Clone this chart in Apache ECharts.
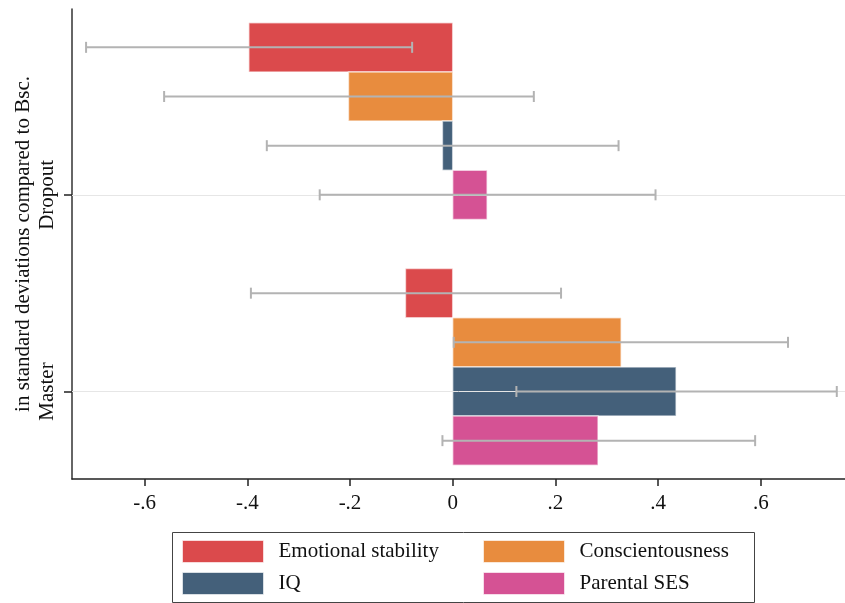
<!DOCTYPE html>
<html>
<head>
<meta charset="utf-8">
<script src="https://cdn.jsdelivr.net/npm/echarts@6/dist/echarts.min.js"></script>
<style>
  html, body { margin: 0; padding: 0; background: #fff; }
  #chart { width: 845px; height: 603px; }
</style>
</head>
<body>
<div id="chart"></div>
<script>
// Groups compared against Bsc. graduates
const groups = ['Dropout', 'Master'];
const seriesNames = ['Emotional stability', 'Conscientousness', 'IQ', 'Parental SES'];

// Point estimates (standard deviations), one value per group: [Dropout, Master]
const emotionalStability = [-0.397, -0.092];
const conscientousness   = [-0.203, 0.328];
const iq                 = [-0.020, 0.435];
const parentalSES        = [0.067, 0.283];

// Confidence intervals [low, high], per group: [Dropout, Master]
const emotionalStabilityCI = [[-0.714, -0.079], [-0.393, 0.211]];
const conscientousnessCI   = [[-0.562, 0.158], [0.002, 0.653]];
const iqCI                 = [[-0.362, 0.323], [0.124, 0.748]];
const parentalSESCI        = [[-0.259, 0.395], [-0.020, 0.589]];

// x-axis tick labels
const xTicks = [-0.6, -0.4, -0.2, 0, 0.2, 0.4, 0.6];
const xTickLabels = ['-.6', '-.4', '-.2', '0', '.2', '.4', '.6'];

const colors = ['#db4a4c', '#e88c3e', '#44607a', '#d55294'];
const estimates = [emotionalStability, conscientousness, iq, parentalSES];
const intervals = [emotionalStabilityCI, conscientousnessCI, iqCI, parentalSESCI];

// Layout: each group occupies four rows, with one empty row between groups.
const rowsPerGroup = 5;
const groupLabelRows = [3, 7];
const FONT = '"Liberation Serif", "DejaVu Serif", serif';
const FS = 21;

function rowOf(g, s) { return g * rowsPerGroup + s; }

function barSeries(s) {
  return {
    name: seriesNames[s],
    type: 'custom',
    z: 3,
    itemStyle: { color: colors[s] },
    encode: { x: 0, y: 1 },
    data: groups.map((_, g) => [estimates[s][g], rowOf(g, s)]),
    renderItem: function (params, api) {
      const v = api.value(0), r = api.value(1);
      const p0 = api.coord([0, r]);
      const p1 = api.coord([v, r]);
      const h = api.size([0, 1])[1];
      return {
        type: 'rect',
        shape: {
          x: Math.min(p0[0], p1[0]),
          y: p0[1] - h / 2,
          width: Math.abs(p1[0] - p0[0]),
          height: h
        },
        style: {
          fill: colors[s],
          stroke: 'rgba(255,255,255,0.6)',
          lineWidth: 1.5
        }
      };
    }
  };
}

function ciSeries(s) {
  return {
    name: seriesNames[s] + ' CI',
    type: 'custom',
    z: 5,
    silent: true,
    encode: { x: [0, 1], y: 2 },
    data: groups.map((_, g) => [intervals[s][g][0], intervals[s][g][1], rowOf(g, s)]),
    renderItem: function (params, api) {
      const r = api.value(2);
      const a = api.coord([api.value(0), r]);
      const b = api.coord([api.value(1), r]);
      const cap = 5.5;
      const st = { stroke: '#b3b3b3', lineWidth: 2 };
      return {
        type: 'group',
        children: [
          { type: 'line', shape: { x1: a[0], y1: a[1], x2: b[0], y2: b[1] }, style: st },
          { type: 'line', shape: { x1: a[0], y1: a[1] - cap, x2: a[0], y2: a[1] + cap }, style: st },
          { type: 'line', shape: { x1: b[0], y1: b[1] - cap, x2: b[0], y2: b[1] + cap }, style: st }
        ]
      };
    }
  };
}

const chart = echarts.init(document.getElementById('chart'), null, { renderer: 'canvas' });

const legendCommon = {
  orient: 'vertical',
  top: 540,
  padding: 0,
  itemWidth: 81, itemHeight: 22, itemGap: 9,
  icon: 'rect',
  selectedMode: false,
  itemStyle: { borderColor: 'rgba(255,255,255,0.6)', borderWidth: 1 },
  textStyle: { fontSize: FS, color: '#111', fontFamily: FONT, padding: [0, 0, 0, 10] }
};

const option = {
  animation: false,
  backgroundColor: '#fff',
  textStyle: { fontFamily: FONT },
  grid: { left: 72, right: 0, top: 9, bottom: 124, containLabel: false },
  xAxis: {
    type: 'value',
    min: -0.7414,
    max: 0.764,
    axisLine: { show: true, onZero: false, lineStyle: { color: '#222', width: 1.5 } },
    axisTick: { show: true, length: 7, customValues: xTicks, lineStyle: { color: '#222', width: 1.5 } },
    axisLabel: {
      customValues: xTicks,
      margin: 14,
      fontSize: FS,
      color: '#111',
      fontFamily: FONT,
      formatter: function (v) {
        const i = xTicks.findIndex(t => Math.abs(t - v) < 1e-9);
        return i >= 0 ? xTickLabels[i] : '';
      }
    },
    splitLine: { show: false }
  },
  yAxis: {
    type: 'value',
    inverse: true,
    min: -0.78,
    max: 8.78,
    name: 'in standard deviations compared to Bsc.',
    nameLocation: 'middle',
    nameRotate: 90,
    nameGap: 38,
    nameMoveOverlap: false,
    nameTextStyle: { fontSize: FS, color: '#111', fontFamily: FONT },
    axisLine: { show: true, onZero: false, lineStyle: { color: '#333', width: 1.5 } },
    axisTick: { show: true, length: 8, customValues: groupLabelRows, lineStyle: { color: '#222', width: 1.5 } },
    axisLabel: {
      customValues: groupLabelRows,
      rotate: 90,
      margin: 14,
      fontSize: FS,
      color: '#111',
      fontFamily: FONT,
      formatter: function (v) {
        const i = groupLabelRows.indexOf(Math.round(v));
        return i >= 0 ? groups[i] : '';
      }
    },
    splitLine: { show: false }
  },
  legend: [
    Object.assign({ data: [seriesNames[0], seriesNames[2]], left: 182 }, legendCommon),
    Object.assign({ data: [seriesNames[1], seriesNames[3]], left: 483 }, legendCommon)
  ],
  graphic: [
    {
      type: 'rect',
      left: 170, top: 530,
      shape: { width: 582, height: 70 },
      style: { fill: 'none', stroke: '#444', lineWidth: 1 },
      z: 0
    }
  ],
  series: [
    {
      name: 'group lines',
      type: 'line',
      data: [],
      z: 1,
      silent: true,
      markLine: {
        silent: true,
        symbol: 'none',
        label: { show: false },
        lineStyle: { color: '#e6e6e6', width: 1, type: 'solid' },
        data: groupLabelRows.map(r => ({ yAxis: r }))
      }
    },
    ...seriesNames.map((_, s) => barSeries(s)),
    ...seriesNames.map((_, s) => ciSeries(s))
  ]
};

chart.setOption(option);
</script>
</body>
</html>
